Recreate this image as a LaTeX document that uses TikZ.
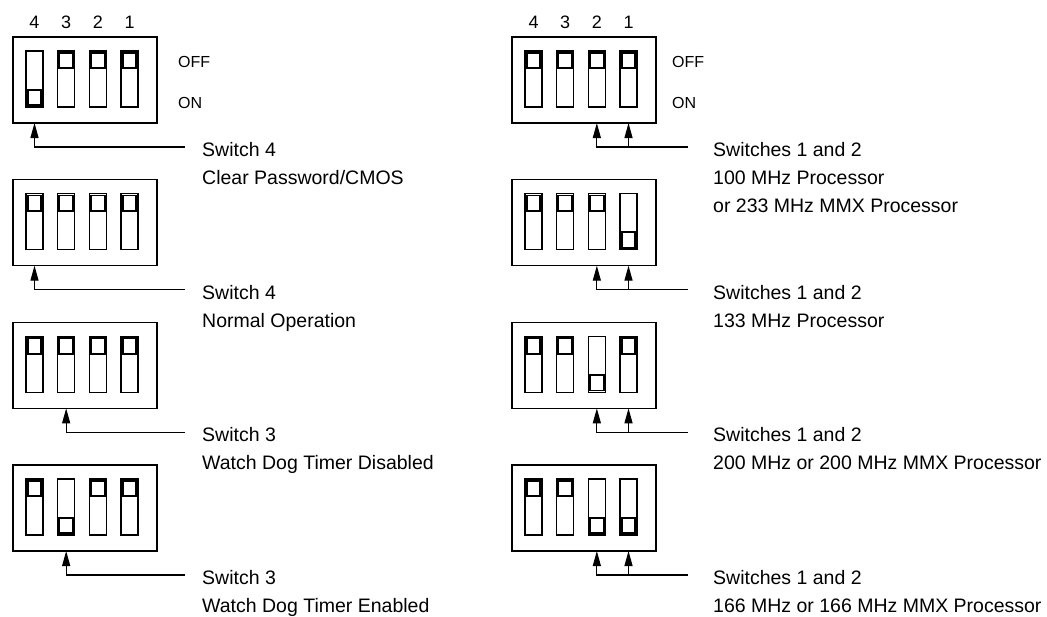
\documentclass[tikz,border=0pt]{standalone}
\usepackage{fontspec}
\setmainfont{Liberation Sans}
\usetikzlibrary{arrows.meta}
\tikzset{
  dip/.style={draw, line width=1.4pt, rectangle, minimum width=144pt, minimum height=86pt, inner sep=0pt, outer sep=0pt, anchor=north west},
  slot/.style={draw, line width=1.4pt, rectangle, minimum width=17pt, minimum height=56pt, inner sep=0pt, outer sep=0pt, anchor=north west},
  knob/.style={draw, line width=1.9pt, rectangle, minimum width=13.5pt, minimum height=15.5pt, inner sep=0pt, outer sep=0pt},
  lead/.style={line width=1.2pt, -{Triangle[length=15pt,width=8pt]}},
  wire/.style={line width=1.2pt},
  lbl/.style={anchor=north west, inner sep=0pt, align=left, font=\fontsize{19.5}{28}\selectfont},
  num/.style={inner sep=0pt, font=\fontsize{18}{21}\selectfont},
  state/.style={anchor=west, inner sep=0pt, font=\fontsize{16}{19}\selectfont},
}
% #1 name, #2 left x, #3 top y, #4 list switch/state (1 = ON)
\newcommand\dipswitch[4]{%
  \node[dip] (#1) at (#2,#3) {};
  \foreach \n/\s [count=\i from 0] in {#4} {
    \node[slot] (#1s\n) at ({#2+13+31.67*\i},{#3+14}) {};
    \node[knob] (#1k\n) at ({#2+13+31.67*\i+8.5},{#3+14+9.6+36.8*\s}) {};
  }
}
\begin{document}
\begin{tikzpicture}[x=1pt,y=-1pt]
\path[use as bounding box] (0,0) rectangle (1047,616);

% ---------- left column ----------
\dipswitch{L1}{13}{37}{4/1,3/0,2/0,1/0}
\dipswitch{L2}{13}{179.67}{4/0,3/0,2/0,1/0}
\dipswitch{L3}{13}{322.33}{4/0,3/0,2/0,1/0}
\dipswitch{L4}{13}{465}{4/0,3/1,2/0,1/0}

\foreach \n in {4,3,2,1} {
  \node[num] (L1n\n) at (L1s\n.center |- 0,22) {\n};
}
\node[state] (L1off) at (178,62) {OFF};
\node[state] (L1on) at (178,103) {ON};

\coordinate (L1e) at (185,147);
\coordinate (L2e) at (185,289.67);
\coordinate (L3e) at (185,432.33);
\coordinate (L4e) at (185,575);
\draw[lead] (L1e) -| (L1s4.center |- L1.south);
\draw[lead] (L2e) -| (L2s4.center |- L2.south);
\draw[lead] (L3e) -| (L3s3.center |- L3.south);
\draw[lead] (L4e) -| (L4s3.center |- L4.south);

\node[lbl] (L1t) at (202,142) {Switch 4\\Clear Password/CMOS};
\node[lbl] (L2t) at (202,284.67) {Switch 4\\Normal Operation};
\node[lbl] (L3t) at (202,427.33) {Switch 3\\Watch Dog Timer Disabled};
\node[lbl] (L4t) at (202,570) {Switch 3\\Watch Dog Timer Enabled};

% ---------- right column ----------
\dipswitch{R1}{512}{37}{4/0,3/0,2/0,1/0}
\dipswitch{R2}{512}{179.67}{4/0,3/0,2/0,1/1}
\dipswitch{R3}{512}{322.33}{4/0,3/0,2/1,1/0}
\dipswitch{R4}{512}{465}{4/0,3/0,2/1,1/1}

\foreach \n in {4,3,2,1} {
  \node[num] (R1n\n) at (R1s\n.center |- 0,22) {\n};
}
\node[state] (R1off) at (672,62) {OFF};
\node[state] (R1on) at (672,103) {ON};

\coordinate (R1e) at (688,147);
\coordinate (R2e) at (688,289.67);
\coordinate (R3e) at (688,432.33);
\coordinate (R4e) at (688,575);
\foreach \b in {R1,R2,R3,R4} {
  \draw[lead] (\b e) -| (\b s2.center |- \b.south);
  \draw[lead] (\b s1.center |- \b e) -- (\b s1.center |- \b.south);
}

\node[lbl] (R1t) at (713,142) {Switches 1 and 2\\100 MHz Processor\\or 233 MHz MMX Processor};
\node[lbl] (R2t) at (713,284.67) {Switches 1 and 2\\133 MHz Processor};
\node[lbl] (R3t) at (713,427.33) {Switches 1 and 2\\200 MHz or 200 MHz MMX Processor};
\node[lbl] (R4t) at (713,570) {Switches 1 and 2\\166 MHz or 166 MHz MMX Processor};
\end{tikzpicture}
\end{document}
